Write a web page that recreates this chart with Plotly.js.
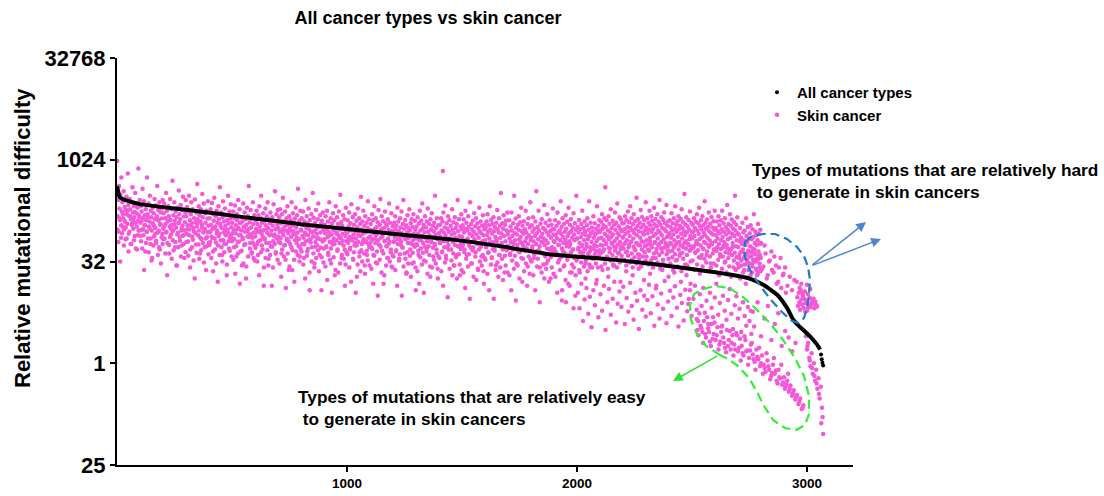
<!DOCTYPE html>
<html>
<head>
<meta charset="utf-8">
<script src="https://cdn.plot.ly/plotly-3.0.1.min.js"></script>
<style>
  html, body { margin: 0; padding: 0; background: #fff; }
  #chart { width: 1104px; height: 496px; }
</style>
</head>
<body>
<div id="chart"></div>
<script>
// All cancer types: ranked relative mutational difficulty (line + dotted end)
const allX = [0,5,10,20,40,70,100,200,300,450,550,700,800,1000,1250,1450,1665,1880,2100,2275,2490,2665,2750,2810,2870,2913,2940,2960,2980,3013,3043,3057];
const allY = [416,350,294,274,256,239,226,204,186,161,145,126,114,97,79,68,54,41,35.5,31,25,20.5,17.9,14.5,10.3,6.6,4.4,3.7,3.2,2.5,1.9,1.6];
const allTailX = [3061,3064,3067,3070];
const allTailY = [1.35,1.15,1.02,0.93];

// Skin cancer: main band, one row of ranks per hundred
const bandX = [
  1,3,5,7,9,11,13,15,17,19,21,23,25,27,29,31,33,35,37,39,41,43,45,47,49,51,53,55,57,59,61,63,65,67,69,71,73,75,77,79,81,83,85,87,89,91,93,95,97,99,
  101,103,105,107,109,111,113,115,117,119,121,123,125,127,129,131,133,135,137,139,141,143,145,147,149,151,153,155,157,159,161,163,165,167,169,171,173,175,177,179,181,183,185,187,189,191,193,195,197,199,
  201,203,205,207,209,211,213,215,217,219,221,223,225,227,229,231,233,235,237,239,241,243,245,247,249,251,253,255,257,259,261,263,265,267,269,271,273,275,277,279,281,283,285,287,289,291,293,295,297,299,
  301,303,305,307,309,311,313,315,317,319,321,323,325,327,329,331,333,335,337,339,341,343,345,347,349,351,353,355,357,359,361,363,365,367,369,371,373,375,377,379,381,383,385,387,389,391,393,395,397,399,
  401,403,405,407,409,411,413,415,417,419,421,423,425,427,429,431,433,435,437,439,441,443,445,447,449,451,453,455,457,459,461,463,465,467,469,471,473,475,477,479,481,483,485,487,489,491,493,495,497,499,
  501,503,505,507,509,511,513,515,517,519,521,523,525,527,529,531,533,535,537,539,541,543,545,547,549,551,553,555,557,559,561,563,565,567,569,571,573,575,577,579,581,583,585,587,589,591,593,595,597,599,
  601,603,605,607,609,611,613,615,617,619,621,623,625,627,629,631,633,635,637,639,641,643,645,647,649,651,653,655,657,659,661,663,665,667,669,671,673,675,677,679,681,683,685,687,689,691,693,695,697,699,
  701,703,705,707,709,711,713,715,717,719,721,723,725,727,729,731,733,735,737,739,741,743,745,747,749,751,753,755,757,759,761,763,765,767,769,771,773,775,777,779,781,783,785,787,789,791,793,795,797,799,
  801,803,805,807,809,811,813,815,817,819,821,823,825,827,829,831,833,835,837,839,841,843,845,847,849,851,853,855,857,859,861,863,865,867,869,871,873,875,877,879,881,883,885,887,889,891,893,895,897,899,
  901,903,905,907,909,911,913,915,917,919,921,923,925,927,929,931,933,935,937,939,941,943,945,947,949,951,953,955,957,959,961,963,965,967,969,971,973,975,977,979,981,983,985,987,989,991,993,995,997,999,
  1001,1003,1005,1007,1009,1011,1013,1015,1017,1019,1021,1023,1025,1027,1029,1031,1033,1035,1037,1039,1041,1043,1045,1047,1049,1051,1053,1055,1057,1059,1061,1063,1065,1067,1069,1071,1073,1075,1077,1079,1081,1083,1085,1087,1089,1091,1093,1095,1097,1099,
  1101,1103,1105,1107,1109,1111,1113,1115,1117,1119,1121,1123,1125,1127,1129,1131,1133,1135,1137,1139,1141,1143,1145,1147,1149,1151,1153,1155,1157,1159,1161,1163,1165,1167,1169,1171,1173,1175,1177,1179,1181,1183,1185,1187,1189,1191,1193,1195,1197,1199,
  1201,1203,1205,1207,1209,1211,1213,1215,1217,1219,1221,1223,1225,1227,1229,1231,1233,1235,1237,1239,1241,1243,1245,1247,1249,1251,1253,1255,1257,1259,1261,1263,1265,1267,1269,1271,1273,1275,1277,1279,1281,1283,1285,1287,1289,1291,1293,1295,1297,1299,
  1301,1303,1305,1307,1309,1311,1313,1315,1317,1319,1321,1323,1325,1327,1329,1331,1333,1335,1337,1339,1341,1343,1345,1347,1349,1351,1353,1355,1357,1359,1361,1363,1365,1367,1369,1371,1373,1375,1377,1379,1381,1383,1385,1387,1389,1391,1393,1395,1397,1399,
  1401,1403,1405,1407,1409,1411,1413,1415,1417,1419,1421,1423,1425,1427,1429,1431,1433,1435,1437,1439,1441,1443,1445,1447,1449,1451,1453,1455,1457,1459,1461,1463,1465,1467,1469,1471,1473,1475,1477,1479,1481,1483,1485,1487,1489,1491,1493,1495,1497,1499,
  1501,1503,1505,1507,1509,1511,1513,1515,1517,1519,1521,1523,1525,1527,1529,1531,1533,1535,1537,1539,1541,1543,1545,1547,1549,1551,1553,1555,1557,1559,1561,1563,1565,1567,1569,1571,1573,1575,1577,1579,1581,1583,1585,1587,1589,1591,1593,1595,1597,1599,
  1601,1603,1605,1607,1609,1611,1613,1615,1617,1619,1621,1623,1625,1627,1629,1631,1633,1635,1637,1639,1641,1643,1645,1647,1649,1651,1653,1655,1657,1659,1661,1663,1665,1667,1669,1671,1673,1675,1677,1679,1681,1683,1685,1687,1689,1691,1693,1695,1697,1699,
  1701,1703,1705,1707,1709,1711,1713,1715,1717,1719,1721,1723,1725,1727,1729,1731,1733,1735,1737,1739,1741,1743,1745,1747,1749,1751,1753,1755,1757,1759,1761,1763,1765,1767,1769,1771,1773,1775,1777,1779,1781,1783,1785,1787,1789,1791,1793,1795,1797,1799,
  1801,1803,1805,1807,1809,1811,1813,1815,1817,1819,1821,1823,1825,1827,1829,1831,1833,1835,1837,1839,1841,1843,1845,1847,1849,1851,1853,1855,1857,1859,1861,1863,1865,1867,1869,1871,1873,1875,1877,1879,1881,1883,1885,1887,1889,1891,1893,1895,1897,1899,
  1901,1903,1905,1907,1909,1911,1913,1915,1917,1919,1921,1923,1925,1927,1929,1931,1933,1935,1937,1939,1941,1943,1945,1947,1949,1951,1953,1955,1957,1959,1961,1963,1965,1967,1969,1971,1973,1975,1977,1979,1981,1983,1985,1987,1989,1991,1993,1995,1997,1999,
  2001,2003,2005,2007,2009,2011,2013,2015,2017,2019,2021,2023,2025,2027,2029,2031,2033,2035,2037,2039,2041,2043,2045,2047,2049,2051,2053,2055,2057,2059,2061,2063,2065,2067,2069,2071,2073,2075,2077,2079,2081,2083,2085,2087,2089,2091,2093,2095,2097,2099,
  2101,2103,2105,2107,2109,2111,2113,2115,2117,2119,2121,2123,2125,2127,2129,2131,2133,2135,2137,2139,2141,2143,2145,2147,2149,2151,2153,2155,2157,2159,2161,2163,2165,2167,2169,2171,2173,2175,2177,2179,2181,2183,2185,2187,2189,2191,2193,2195,2197,2199,
  2201,2203,2205,2207,2209,2211,2213,2215,2217,2219,2221,2223,2225,2227,2229,2231,2233,2235,2237,2239,2241,2243,2245,2247,2249,2251,2253,2255,2257,2259,2261,2263,2265,2267,2269,2271,2273,2275,2277,2279,2281,2283,2285,2287,2289,2291,2293,2295,2297,2299,
  2301,2303,2305,2307,2309,2311,2313,2315,2317,2319,2321,2323,2325,2327,2329,2331,2333,2335,2337,2339,2341,2343,2345,2347,2349,2351,2353,2355,2357,2359,2361,2363,2365,2367,2369,2371,2373,2375,2377,2379,2381,2383,2385,2387,2389,2391,2393,2395,2397,2399,
  2401,2403,2405,2407,2409,2411,2413,2415,2417,2419,2421,2423,2425,2427,2429,2431,2433,2435,2437,2439,2441,2443,2445,2447,2449,2451,2453,2455,2457,2459,2461,2463,2465,2467,2469,2471,2473,2475,2477,2479,2481,2483,2485,2487,2489,2491,2493,2495,2497,2499,
  2501,2503,2505,2507,2509,2511,2513,2515,2517,2519,2521,2523,2525,2527,2529,2531,2533,2535,2537,2539,2541,2543,2545,2547,2549,2551,2553,2555,2557,2559,2561,2563,2565,2567,2569,2571,2573,2575,2577,2579,2581,2583,2585,2587,2589,2591,2593,2595,2597,2599,
  2601,2603,2605,2607,2609,2611,2613,2615,2617,2619,2621,2623,2625,2627,2629,2631,2633,2635,2637,2639,2641,2643,2645,2647,2649,2651,2653,2655,2657,2659,2661,2663,2665,2667,2669,2671,2673,2675,2677,2679,2681,2683,2685,2687,2689,2691,2693,2695,2697,2699,
  2701,2703,2705,2707,2709,2711,2713,2715,2717,2719,2721,2723,2725,2727,2729,2731,2733,2735,2737,2739,2741,2743,2745,2747,2749,2751,2753,2755,2757,2759,2761,2763,2765,2767,2769,2771,2773,2775,2777,2779,2781,2783,2785,2787,2789,2791,2793,2795,2797,2799
];
const bandY = [
  980,150,260,88,420,195,130,310,72,560,175,240,105,140,350,95,205,125,68,185,290,160,115,640,220,82,150,270,190,58,135,245,110,400,170,98,210,145,76,330,120,230,165,48,200,128,760,155,92,260,
  120,210,64,175,95,380,140,78,250,110,155,45,190,130,88,560,160,70,230,105,125,300,58,180,145,92,36,200,115,165,75,270,135,100,215,60,150,420,85,185,128,52,240,112,170,30,138,195,82,260,
  98,165,230,70,140,115,330,88,180,60,125,210,150,42,105,270,132,80,190,112,500,66,155,95,240,128,52,175,102,145,28,200,85,118,360,160,74,135,220,92,55,185,108,290,78,148,36,122,170,260,
  150,82,205,110,63,175,300,95,130,48,160,240,118,75,190,100,33,140,88,265,122,57,170,105,450,135,78,210,92,155,42,125,190,68,112,320,145,86,230,98,52,165,120,24,180,73,138,250,108,60,
  88,140,62,190,112,75,235,98,45,160,128,280,70,105,150,30,180,92,120,55,210,135,82,400,115,66,170,100,40,145,250,86,125,58,195,108,78,155,20,132,95,300,118,50,175,72,138,225,103,64,
  120,70,175,95,52,140,215,84,110,38,160,130,62,260,100,78,190,118,45,145,92,28,125,68,230,105,56,170,88,135,18,112,200,75,150,96,420,80,122,60,185,102,42,138,72,240,115,86,155,33,
  75,130,98,180,58,115,40,155,88,210,105,66,140,300,82,120,48,165,93,26,128,70,195,110,60,150,85,240,100,35,135,78,118,170,54,92,14,145,108,64,225,125,80,350,96,44,160,72,112,185,
  100,62,145,88,190,70,118,42,160,95,280,78,125,55,105,175,34,92,140,66,210,112,84,24,150,98,58,130,74,240,108,47,165,90,120,16,138,80,200,102,60,155,86,380,115,68,128,38,180,94,
  92,140,58,110,175,72,36,125,85,260,64,100,150,45,118,78,195,96,22,132,68,88,160,52,108,330,75,142,90,30,120,62,185,98,82,55,135,230,70,104,40,155,86,115,12,128,66,170,94,50,
  68,112,84,150,52,96,180,74,125,40,88,240,62,105,140,30,80,118,57,165,92,70,130,20,100,210,66,86,145,48,115,78,175,60,95,310,72,122,36,108,82,155,55,98,135,14,76,200,90,64,
  85,130,60,105,170,74,48,118,92,225,66,98,145,34,80,112,55,160,88,70,128,19,102,195,62,90,140,44,115,76,290,95,58,125,82,180,68,108,28,150,86,64,120,40,100,250,72,135,52,94,
  75,115,52,92,160,68,130,40,84,210,98,60,140,78,104,30,122,66,185,88,56,112,270,72,96,150,46,82,126,15,100,64,175,86,118,54,108,36,135,70,94,230,62,120,80,48,165,90,26,106,
  88,62,120,74,150,95,45,108,80,200,58,125,90,35,70,140,102,64,175,84,52,115,260,76,98,42,132,68,110,22,86,155,60,100,72,190,92,48,118,78,135,30,104,66,160,82,55,128,94,12,
  70,105,56,145,82,40,118,66,180,92,50,128,76,230,98,60,112,33,86,150,72,102,45,125,64,195,88,54,115,78,27,135,95,62,165,74,108,38,90,120,58,300,80,100,48,140,68,18,110,84,
  82,60,112,74,140,92,44,125,700,170,86,52,102,215,78,35,118,64,98,150,56,88,130,70,68,108,48,80,190,94,62,122,28,84,145,72,100,40,115,66,260,90,54,135,76,20,105,58,160,96,
  74,110,58,135,86,48,98,180,66,120,40,92,70,150,104,55,82,240,62,115,30,95,76,128,52,88,165,68,106,44,140,80,60,118,25,100,72,200,90,56,125,84,38,108,64,155,78,15,96,112,
  66,100,52,125,78,160,88,44,110,70,210,94,58,132,36,82,115,62,145,90,50,104,74,28,120,68,185,96,56,86,140,40,108,72,330,84,60,118,48,98,155,76,22,112,64,128,92,54,170,80,
  88,54,130,70,40,105,62,170,92,76,48,118,58,300,84,66,138,100,30,80,56,112,94,150,68,44,122,74,200,90,60,108,35,82,126,52,96,64,180,86,72,14,115,58,140,78,46,102,240,66,
  72,110,50,88,145,64,36,98,76,125,58,350,84,46,104,68,180,92,54,26,116,74,62,135,82,42,100,70,220,56,94,120,66,30,86,160,60,108,78,48,130,90,18,72,112,52,96,195,80,64,
  96,62,130,78,44,108,70,170,86,56,120,34,92,66,250,82,104,50,140,74,60,115,28,88,68,155,98,54,124,76,40,200,84,64,112,58,135,90,22,72,102,48,165,80,66,118,38,94,300,70,
  70,104,48,86,132,60,38,96,74,115,54,180,82,44,100,66,125,90,30,78,58,110,140,68,42,94,250,76,52,120,84,62,102,35,88,150,72,56,118,80,46,98,64,210,86,26,108,70,130,92,
  88,56,124,72,160,98,45,110,66,140,82,400,104,60,130,76,36,92,150,68,116,50,86,190,74,100,58,128,80,28,112,64,170,94,52,120,70,230,84,42,106,78,145,62,96,134,54,90,118,72,
  74,118,58,96,150,82,44,130,66,104,175,88,52,122,76,210,100,62,140,34,92,114,70,160,84,48,126,98,60,280,78,108,136,56,90,40,120,72,185,102,64,146,86,30,112,80,132,54,94,240,
  102,66,140,84,48,120,94,180,72,110,56,150,88,128,36,98,76,200,114,62,136,82,44,106,160,70,92,124,58,260,86,112,50,144,78,100,30,132,68,170,96,118,60,90,220,74,108,54,126,80,
  84,130,60,104,72,165,92,46,118,80,140,66,98,210,56,112,88,34,126,74,150,96,62,108,42,136,82,190,70,100,122,52,90,320,78,114,64,144,86,28,106,58,132,94,68,175,76,48,120,88,
  70,112,88,54,140,76,100,44,124,64,160,92,58,118,82,200,68,106,36,130,96,74,150,50,110,86,62,250,78,120,98,40,134,72,104,56,170,90,66,116,30,84,146,60,102,80,126,48,94,180,
  64,100,78,46,125,70,90,150,58,110,84,38,130,66,96,180,74,52,118,88,62,140,32,104,80,56,220,94,68,115,42,86,160,72,108,50,134,82,60,98,26,122,76,300,92,54,112,66,145,84,
  52,80,36,64,100,44,72,28,58,120,48,86,66,24,92,40,56,140,76,34,62,104,46,70,30,84,54,110,38,68,22,96,50,74,160,42,60,88,32,78,56,20,66,115,45,82,26,58,94,36
];

// Skin cancer: lower half of the main band, interleaved ranks
const bandLowX = [
  2,6,10,14,18,22,26,30,34,38,42,46,50,54,58,62,66,70,74,78,82,86,90,94,98,
  102,106,110,114,118,122,126,130,134,138,142,146,150,154,158,162,166,170,174,178,182,186,190,194,198,
  202,206,210,214,218,222,226,230,234,238,242,246,250,254,258,262,266,270,274,278,282,286,290,294,298,
  302,306,310,314,318,322,326,330,334,338,342,346,350,354,358,362,366,370,374,378,382,386,390,394,398,
  402,406,410,414,418,422,426,430,434,438,442,446,450,454,458,462,466,470,474,478,482,486,490,494,498,
  502,506,510,514,518,522,526,530,534,538,542,546,550,554,558,562,566,570,574,578,582,586,590,594,598,
  602,606,610,614,618,622,626,630,634,638,642,646,650,654,658,662,666,670,674,678,682,686,690,694,698,
  702,706,710,714,718,722,726,730,734,738,742,746,750,754,758,762,766,770,774,778,782,786,790,794,798,
  802,806,810,814,818,822,826,830,834,838,842,846,850,854,858,862,866,870,874,878,882,886,890,894,898,
  902,906,910,914,918,922,926,930,934,938,942,946,950,954,958,962,966,970,974,978,982,986,990,994,998,
  1002,1006,1010,1014,1018,1022,1026,1030,1034,1038,1042,1046,1050,1054,1058,1062,1066,1070,1074,1078,1082,1086,1090,1094,1098,
  1102,1106,1110,1114,1118,1122,1126,1130,1134,1138,1142,1146,1150,1154,1158,1162,1166,1170,1174,1178,1182,1186,1190,1194,1198,
  1202,1206,1210,1214,1218,1222,1226,1230,1234,1238,1242,1246,1250,1254,1258,1262,1266,1270,1274,1278,1282,1286,1290,1294,1298,
  1302,1306,1310,1314,1318,1322,1326,1330,1334,1338,1342,1346,1350,1354,1358,1362,1366,1370,1374,1378,1382,1386,1390,1394,1398,
  1402,1406,1410,1414,1418,1422,1426,1430,1434,1438,1442,1446,1450,1454,1458,1462,1466,1470,1474,1478,1482,1486,1490,1494,1498,
  1502,1506,1510,1514,1518,1522,1526,1530,1534,1538,1542,1546,1550,1554,1558,1562,1566,1570,1574,1578,1582,1586,1590,1594,1598,
  1602,1606,1610,1614,1618,1622,1626,1630,1634,1638,1642,1646,1650,1654,1658,1662,1666,1670,1674,1678,1682,1686,1690,1694,1698,
  1702,1706,1710,1714,1718,1722,1726,1730,1734,1738,1742,1746,1750,1754,1758,1762,1766,1770,1774,1778,1782,1786,1790,1794,1798,
  1802,1806,1810,1814,1818,1822,1826,1830,1834,1838,1842,1846,1850,1854,1858,1862,1866,1870,1874,1878,1882,1886,1890,1894,1898,
  1902,1906,1910,1914,1918,1922,1926,1930,1934,1938,1942,1946,1950,1954,1958,1962,1966,1970,1974,1978,1982,1986,1990,1994,1998,
  2002,2006,2010,2014,2018,2022,2026,2030,2034,2038,2042,2046,2050,2054,2058,2062,2066,2070,2074,2078,2082,2086,2090,2094,2098,
  2102,2106,2110,2114,2118,2122,2126,2130,2134,2138,2142,2146,2150,2154,2158,2162,2166,2170,2174,2178,2182,2186,2190,2194,2198,
  2202,2206,2210,2214,2218,2222,2226,2230,2234,2238,2242,2246,2250,2254,2258,2262,2266,2270,2274,2278,2282,2286,2290,2294,2298,
  2302,2306,2310,2314,2318,2322,2326,2330,2334,2338,2342,2346,2350,2354,2358,2362,2366,2370,2374,2378,2382,2386,2390,2394,2398,
  2402,2406,2410,2414,2418,2422,2426,2430,2434,2438,2442,2446,2450,2454,2458,2462,2466,2470,2474,2478,2482,2486,2490,2494,2498,
  2502,2506,2510,2514,2518,2522,2526,2530,2534,2538,2542,2546,2550,2554,2558,2562,2566,2570,2574,2578,2582,2586,2590,2594,2598,
  2602,2606,2610,2614,2618,2622,2626,2630,2634,2638,2642,2646,2650,2654,2658,2662,2666,2670,2674,2678,2682,2686,2690,2694,2698,
  2702,2706,2710,2714,2718,2722,2726,2730,2734,2738,2742,2746,2750,2754,2758,2762,2766,2770,2774,2778,2782,2786,2790,2794,2798
];
const bandLowY = [
  95,62,140,32,110,84,160,55,125,102,70,180,45,88,150,58,118,132,66,172,50,105,78,92,145,
  76,126,50,95,24,110,60,88,145,44,100,70,33,118,55,106,82,65,135,40,91,48,114,73,58,
  68,105,42,86,20,128,56,74,98,35,90,47,112,62,28,80,52,120,65,38,101,77,58,92,44,
  62,96,39,78,26,110,52,67,90,18,84,43,118,57,35,72,47,102,60,31,94,70,54,86,41,
  56,88,36,71,23,100,48,61,82,16,76,40,107,52,32,66,44,94,58,29,85,64,46,78,38,
  84,34,68,21,54,96,42,63,15,78,46,72,30,102,58,27,90,38,74,50,81,44,61,36,55,
  51,86,32,64,20,92,44,55,74,14,68,36,98,47,28,60,40,80,53,26,77,58,42,70,34,
  75,30,60,19,48,86,38,56,13,70,42,64,27,92,52,24,80,34,66,45,72,40,54,32,50,
  45,76,29,57,18,81,39,49,66,12,61,32,86,42,26,53,36,71,47,23,68,51,37,63,31,
  67,27,54,17,43,77,34,50,11,63,37,58,24,82,46,22,72,30,60,40,65,35,48,29,44,
  41,68,26,51,16,73,35,44,60,11,55,29,78,38,23,47,32,64,42,21,62,46,33,57,28,
  61,25,49,15,39,70,31,45,10,57,34,53,22,75,42,20,65,28,54,36,59,32,44,27,40,
  38,64,24,47,14,68,33,41,56,10,51,27,73,35,21,44,30,60,39,19,58,43,31,53,26,
  58,23,46,15,37,66,29,43,11,54,32,50,21,71,40,19,62,26,51,34,56,30,42,25,38,
  36,60,23,45,14,64,31,39,52,9.5,48,25,68,33,20,42,28,56,37,18,54,41,29,49,24,
  54,22,44,13,35,62,27,41,9,51,30,47,19,66,38,17,58,24,48,32,53,28,40,23,36,
  34,57,21,43,12,61,29,37,49,9,46,24,64,31,19,40,26,53,35,17,51,39,28,47,22,
  51,20,42,12,33,59,25,39,8.5,48,28,45,18,62,36,16,55,23,46,30,50,27,38,21,34,
  32,54,20,41,12,58,27,35,47,8,44,22,61,29,18,38,25,50,33,16,49,37,26,45,21,
  49,19,40,11,31,56,24,37,8.5,46,27,43,17,60,34,15,53,22,44,29,48,26,36,20,33,
  36,51,24,44,31,56,39,27,48,33,53,23,42,29,46,37,26,50,35,41,30,54,45,38,47,
  42,27,55,35,48,30,58,38,25,51,44,33,60,40,29,53,46,36,26,57,43,31,49,39,34,
  50,34,61,28,45,39,56,31,63,42,26,53,37,47,30,59,41,35,55,27,48,38,62,44,33,
  38,57,29,46,64,33,52,26,42,60,36,49,31,55,40,25,62,44,34,51,28,58,41,47,35,
  45,30,58,37,24,52,41,33,61,27,48,39,55,23,43,35,60,29,50,40,26,56,46,32,53,
  33,51,24,43,58,29,47,37,21,55,40,27,49,35,60,31,45,23,53,38,26,57,42,30,48,
  46,28,52,34,20,41,49,25,38,55,31,44,22,50,36,27,47,19,40,53,33,43,24,37,30,
  26,40,18,33,45,22,36,29,15,42,31,24,38,20,44,27,34,17,41,25,35,21,39,30,23
];

// Skin cancer: points just under the ranked curve after rank 2000
const midX = [2012,2037,2058,2083,2111,2136,2160,2189,2214,2242,2268,2291,2318,2345,2371,2398,2423,2452,2476];
const midY = [22,18,26,15,24,19,28,16,23,20,25,17,21,14,24,19,22,16,20];

// Skin cancer: sparse lower band around and after rank 2000
const lowX = [
  1935,1952,1968,1985,1993,
  2004,2011,2019,2026,2033,2041,2049,2056,2063,2071,2078,2086,2093,
  2102,2109,2117,2124,2132,2139,2147,2155,2162,2170,2177,2185,2193,
  2201,2208,2216,2223,2231,2238,2246,2254,2261,2269,2276,2284,2292,2299,
  2306,2313,2321,2328,2336,2343,2351,2359,2366,2374,2381,2389,2396,
  2404,2411,2419,2426,2434,2441,2449,2456,2464,2471,2479,2486,2494
];
const lowY = [
  12,8,14,6.5,10,
  11,6.5,15,4.2,8.8,13,5.4,9.6,3.4,12,7.2,17,4.8,
  10.5,6,14,3.1,8,12.5,5.2,9,16,4,7.6,11.5,6.8,
  13.5,3.8,9.2,5.8,15.5,7,4.4,11,8.4,3.2,12,6.2,10,4.9,
  8.6,14.5,5.5,9.8,3.6,12.8,7.4,4.6,10.8,6.4,16.5,3.9,8.2,
  11.8,5,9.4,13.8,6.6,3.5,10.2,7.8,4.3,12.2,5.9,8.9,15
];

// Skin cancer: easy-to-generate region
const greenX = [2484,2491,2498,2506,2513,2520,2527,2534,2542,2549,2556,2563,2570,2578,2585,2592,2599,2606,2614,2621,
  2628,2635,2642,2650,2657,2664,2671,2678,2686,2693,2700,2707,2714,2722,2729,2736,2743,2750,2758,2765];
const greenY = [7.5,12,5,9,14,6.2,4.2,10.5,7,13,5.6,8.4,3.8,11,6.6,4.8,9.4,15,5.2,7.8,
  3.5,10,6,4.4,8.6,12.5,5.4,3.2,7.2,9.8,4.6,6.4,2.9,8,5,3.6,6.8,4.2,2.7,5.8];

// Skin cancer: descending stream of easy-to-generate mutation types
const streamX = [
  2520,2528,2537,2545,2552,2561,2570,2578,2586,2594,2603,2611,2619,2627,2636,2644,2652,2660,2668,2676,
  2684,2692,2700,2708,2716,2724,2732,2740,2748,2756,2764,2772,2780,2788,2796,2804,2812,2820,2828,2836,
  2844,2852,2860,2868,2876,2884,2892,2900,2907,2914,2921,2928,2935,2942,2949,2956,2963,2970,2977,2984,
  2524,2541,2557,2574,2590,2607,2623,2640,2656,2672,2688,2704,2720,2736,2752,2768,2784,2800,2816,2832,
  2848,2864,2880,2896,2911,2925,2939,2953,2967,2981,
  2532,2548,2566,2582,2598,2615,2631,2648,2664,2680,2696,2712,2728,2744,2760,2776,2792,2808,2824,2840,
  2856,2872,2888,2904,2918
];
const streamY = [
  4.5,2.6,3.6,2.9,4.2,2.4,3.3,2.1,3.8,2.7,2.2,3.4,1.9,2.9,2.4,1.7,3.1,2.2,1.6,2.6,
  1.9,2.8,1.5,2.3,1.8,1.3,2.2,1.55,1.2,1.9,1.35,1.05,1.6,1.15,0.9,1.3,0.95,0.75,1.1,0.8,
  0.65,0.95,0.7,0.55,0.8,0.6,0.48,0.62,0.45,0.55,0.38,0.47,0.33,0.4,0.29,0.34,0.25,0.3,0.21,0.24,
  3.1,3.3,2.7,2.9,2.3,2.6,2.1,2.0,1.8,2.0,1.6,1.7,1.4,1.5,1.55,1.15,1.25,1.0,0.85,0.9,
  0.72,0.78,0.62,0.52,0.48,0.42,0.36,0.32,0.27,0.22,
  5.5,2.0,4.8,1.8,4.0,1.6,3.6,1.45,3.0,1.3,2.6,1.1,2.5,0.95,2.0,0.8,1.7,0.7,1.4,0.58,
  1.2,0.5,0.95,0.42,0.7
];

// Skin cancer: points around the bend of the ranked curve
const bendX = [
  2755,2770,2785,2800,2815,2830,2845,2860,2875,2890,2905,2920,2935,2950,
  2795,2805,2815,2825,2835,2845,2855,2865,2875,2885,2895,2905,2915,2925,2935,2945,
  2762,2772,2781,2790,2800,2810,2820,2829,2838,2848,2858,2868,2878,2888,2898,2908
];
const bendY = [
  6,3.5,8,2.5,4.6,7,2.2,3.8,5.5,1.8,3,2.4,1.5,2,
  40,25,55,18,32,45,22,28,16,36,20,26,14,19,12,17,
  30,48,24,35,60,27,42,20,33,24,38,15,26,13,21,11
];

// Skin cancer: hard-to-generate cluster
const clusterX = [
  2958,2961,2964,2967,2970,2973,2976,2979,2982,2985,2988,2991,2994,2997,3000,3004,
  3008,3012,3016,3020,3024,3028,3032,3036,3040,3044,2968,2980,2992,3002,3014,3026,
  2955,2975,3000
];
const clusterY = [
  9.5,7,11,8,6.2,12,8.8,7.4,10,6.6,9,11.5,7.8,8.4,6,10.5,
  7.2,9.2,6.8,8,7.6,9,6.5,8.2,7.3,6.9,13,10.8,5.8,6.4,12.5,8.6,
  16,15,14.5
];

// Skin cancer: steep tail at the end of the ranking
const tailX = [2995,3000,3005,3010,3015,3020,3025,3030,3035,3040,3045,3050,3055,3060,3065,3068,
  3002,3012,3022,3032,3042,3052,3062,3070];
const tailY = [2.5,1.6,2.0,1.2,0.9,1.4,0.7,1.0,0.55,0.8,0.42,0.6,0.3,0.45,0.22,0.16,
  1.8,1.1,0.85,0.65,0.5,0.35,0.13,0.09];

// Axis ticks
const yTickVals = [0.03125, 1, 32, 1024, 32768];
const yTickText = ['25', '1', '32', '1024', '32768'];
const xTickVals = [1000, 2000, 3000];
const xTickText = ['1000', '2000', '3000'];

const PINK = '#f458d8';
const FONT = 'Liberation Sans, Arial, Helvetica, sans-serif';

const skinX = [].concat(bandX, bandLowX, midX, lowX, greenX, streamX, bendX, clusterX, tailX);
const skinY = [].concat(bandY, bandLowY, midY, lowY, greenY, streamY, bendY, clusterY, tailY);

const traces = [
  {
    type: 'scatter', mode: 'markers', name: 'Skin cancer',
    x: skinX, y: skinY,
    marker: { color: PINK, size: 4.5, line: { width: 0 } },
    legendrank: 2
  },
  {
    type: 'scatter', mode: 'lines', name: 'All cancer types',
    x: allX, y: allY, showlegend: false, legendgroup: 'all',
    line: { color: '#000', width: 4, shape: 'spline', smoothing: 0.5 }
  },
  {
    type: 'scatter', mode: 'markers', name: 'All cancer types',
    x: allTailX, y: allTailY, legendgroup: 'all',
    marker: { color: '#000', size: 4 },
    legendrank: 1
  }
];

// plot area in pixels: left 117, right 853, top 58, bottom 465
const L = 117, R = 853, T = 58, B = 465;
const xp = px => (px - L) / (R - L);
const yp = py => (B - py) / (B - T);
const pathOf = pts => pts.map((p, i) => (i ? 'L' : 'M') + xp(p[0]).toFixed(4) + ',' + yp(p[1]).toFixed(4)).join(' ') + ' Z';

const bluePts = [[745,242],[752,236],[763,234],[775,234],[787,239],[797,247],[804,256],[808,267],[810,280],[809,295],[807,308],[804,318],[799,323],[792,321],[782,312],[771,300],[761,287],[752,274],[746,261],[744,250]];
const greenPts = [[720,355],[706,346],[697,334],[691,320],[690,305],[694,294],[703,289],[715,286],[729,288],[742,296],[756,309],[770,323],[783,340],[795,358],[804,376],[809,396],[809,414],[805,425],[796,430],[785,428],[773,420],[764,406],[757,392],[749,378],[738,366],[728,359]];

const layout = {
  width: 1104, height: 496,
  margin: { l: L, r: 1104 - R, t: T, b: 496 - B, pad: 0 },
  paper_bgcolor: '#fff', plot_bgcolor: '#fff',
  font: { family: FONT, color: '#000' },
  title: {
    text: 'All cancer types vs skin cancer',
    font: { family: FONT, size: 18, weight: 'bold', color: '#000' },
    x: 428 / 1104, xanchor: 'center', y: 1 - 18 / 496, yanchor: 'middle'
  },
  xaxis: {
    range: [0, 3200], showgrid: false, zeroline: false,
    showline: true, linecolor: '#000', linewidth: 2,
    ticks: 'outside', ticklen: 5, tickwidth: 2, tickcolor: '#000',
    tickvals: xTickVals, ticktext: xTickText,
    tickfont: { family: FONT, size: 13.5, weight: 'bold', color: '#000' }
  },
  yaxis: {
    type: 'log', range: [Math.log10(0.03125), Math.log10(32768)],
    showgrid: false, zeroline: false,
    showline: true, linecolor: '#000', linewidth: 2,
    ticks: 'outside', ticklen: 5, tickwidth: 2, tickcolor: '#000',
    tickvals: yTickVals, ticktext: yTickText,
    tickfont: { family: FONT, size: 22, weight: 'bold', color: '#000' }
  },
  showlegend: true,
  legend: {
    x: xp(757), y: yp(76), xanchor: 'left', yanchor: 'top',
    bgcolor: 'rgba(0,0,0,0)', borderwidth: 0,
    font: { family: FONT, size: 15, weight: 'bold', color: '#000' },
    traceorder: 'normal'
  },
  annotations: [
    {
      xref: 'paper', yref: 'paper', x: xp(22), y: yp(238),
      text: 'Relative mutational difficulty', textangle: -90, showarrow: false,
      xanchor: 'center', yanchor: 'middle',
      font: { family: FONT, size: 22, weight: 'bold', color: '#000' }
    },
    {
      xref: 'paper', yref: 'paper', x: xp(750), y: yp(158),
      text: 'Types of mutations that are relatively hard<br>\u00a0to generate in skin cancers',
      showarrow: false, xanchor: 'left', yanchor: 'top', align: 'left',
      font: { family: FONT, size: 17.3, weight: 'bold', color: '#000' }
    },
    {
      xref: 'paper', yref: 'paper', x: xp(296), y: yp(385),
      text: 'Types of mutations that are relatively easy<br>\u00a0to generate in skin cancers',
      showarrow: false, xanchor: 'left', yanchor: 'top', align: 'left',
      font: { family: FONT, size: 17.3, weight: 'bold', color: '#000' }
    },
    {
      xref: 'paper', yref: 'paper', x: xp(866), y: yp(222), text: '',
      showarrow: true, ax: 811 - 866, ay: 266 - 222,
      arrowhead: 2, arrowsize: 1.3, arrowwidth: 1.5, arrowcolor: '#4f82cf'
    },
    {
      xref: 'paper', yref: 'paper', x: xp(881), y: yp(239), text: '',
      showarrow: true, ax: 811 - 881, ay: 266 - 239,
      arrowhead: 2, arrowsize: 1.3, arrowwidth: 1.5, arrowcolor: '#4f82cf'
    },
    {
      xref: 'paper', yref: 'paper', x: xp(673), y: yp(381), text: '',
      showarrow: true, ax: 719 - 673, ay: 355 - 381,
      arrowhead: 2, arrowsize: 1.3, arrowwidth: 1.5, arrowcolor: '#2fe02f'
    }
  ],
  shapes: [
    {
      type: 'path', xref: 'paper', yref: 'paper', path: pathOf(bluePts),
      line: { color: '#1f78c8', width: 2.2, dash: '9px,5px' }, fillcolor: 'rgba(0,0,0,0)'
    },
    {
      type: 'path', xref: 'paper', yref: 'paper', path: pathOf(greenPts),
      line: { color: '#33ee33', width: 2.2, dash: '9px,5px' }, fillcolor: 'rgba(0,0,0,0)'
    }
  ]
};

Plotly.newPlot('chart', traces, layout, { staticPlot: true, displayModeBar: false });
</script>
</body>
</html>
